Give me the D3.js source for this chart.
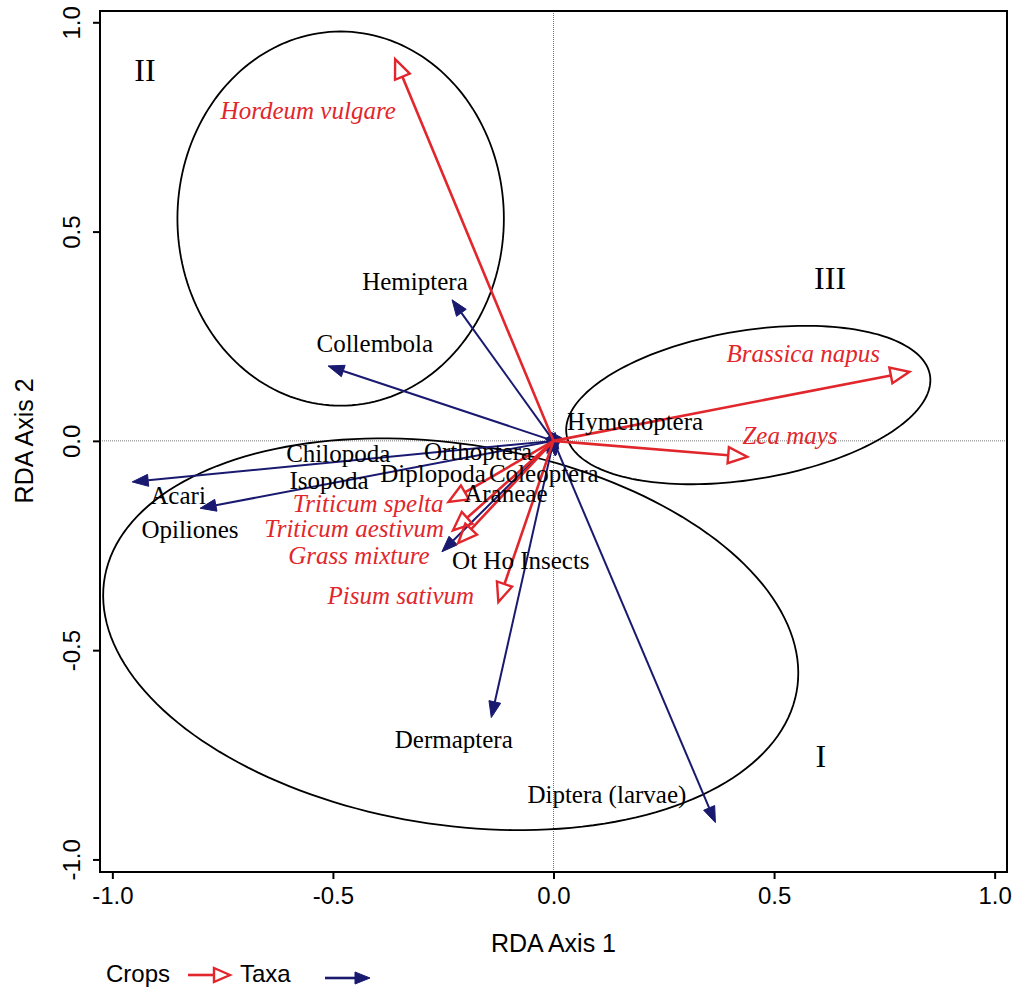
<!DOCTYPE html>
<html>
<head>
<meta charset="utf-8">
<script src="https://cdn.jsdelivr.net/npm/d3@7"></script>
<style>
  html, body { margin: 0; padding: 0; background: #fff; }
  svg { display: block; }
</style>
</head>
<body>
<div id="chart"></div>
<script>
// Crop vectors (red, open heads)
var cropNames = ['Hordeum vulgare', 'Brassica napus', 'Zea mays', 'Triticum spelta',
  'Triticum aestivum', 'Grass mixture', 'Pisum sativum'];
var cropX = [-0.359, 0.807, 0.439, -0.238, -0.228, -0.216, -0.125];
var cropY = [0.912, 0.165, -0.038, -0.146, -0.214, -0.244, -0.385];
var cropLabelX = [-0.556, 0.566, 0.536, -0.420, -0.452, -0.441, -0.346];
var cropLabelY = [0.769, 0.188, -0.007, -0.170, -0.230, -0.294, -0.390];

// Taxa vectors (navy, filled heads)
var taxaNames = ['Hemiptera', 'Collembola', 'Acari', 'Opiliones', 'Chilopoda', 'Isopoda',
  'Orthoptera', 'Diplopoda', 'Coleoptera', 'Araneae', 'Hymenoptera', 'Ot Ho Insects',
  'Dermaptera', 'Diptera (larvae)'];
var taxaX = [-0.230, -0.511, -0.955, -0.801, -0.020, -0.015, -0.010, -0.008, 0.006, 0.004, 0.012, -0.253, -0.141, 0.367];
var taxaY = [0.337, 0.179, -0.098, -0.161, -0.025, -0.030, -0.020, -0.032, -0.034, -0.036, -0.020, -0.265, -0.661, -0.912];
var taxaLabelX = [-0.314, -0.405, -0.851, -0.824, -0.488, -0.509, -0.171, -0.273, -0.022, -0.108, 0.185, -0.074, -0.226, 0.121];
var taxaLabelY = [0.360, 0.212, -0.151, -0.232, -0.050, -0.115, -0.046, -0.098, -0.098, -0.146, 0.026, -0.306, -0.733, -0.865];

// Group ellipses
var groupNames = ['I', 'II', 'III'];
var groupCx = [-0.233, -0.4825, 0.4415];
var groupCy = [-0.462, 0.531, 0.0856];
var groupA = [0.796, 0.370, 0.418];
var groupB = [0.454, 0.447, 0.1775];
var groupAngle = [-10, 0, 10];
var groupLabelX = [0.606, -0.926, 0.627];
var groupLabelY = [-0.780, 0.860, 0.363];

var tickValues = [-1.0, -0.5, 0.0, 0.5, 1.0];

var W = 1017, H = 990;
var margin = { top: 11, right: 10, bottom: 118, left: 100 };
var red = '#e1262c';
var navy = '#191970';

var svg = d3.select('#chart').append('svg')
  .attr('width', W).attr('height', H);

var x = d3.scaleLinear().domain([-1.028, 1.028]).range([margin.left, W - margin.right]);
var y = d3.scaleLinear().domain([-1.030, 1.027]).range([H - margin.bottom, margin.top]);

// reference lines through the origin
svg.append('line')
  .attr('x1', x.range()[0]).attr('x2', x.range()[1])
  .attr('y1', y(0)).attr('y2', y(0))
  .attr('stroke', '#777').attr('stroke-width', 1).attr('stroke-dasharray', '1,1');
svg.append('line')
  .attr('x1', x(0)).attr('x2', x(0))
  .attr('y1', y.range()[0]).attr('y2', y.range()[1])
  .attr('stroke', '#777').attr('stroke-width', 1).attr('stroke-dasharray', '1,1');

// ellipses
var line = d3.line().curve(d3.curveLinearClosed);
groupNames.forEach(function(g, i) {
  var th = groupAngle[i] * Math.PI / 180;
  var pts = d3.range(0, 360, 2).map(function(deg) {
    var t = deg * Math.PI / 180;
    var dx = groupA[i] * Math.cos(t) * Math.cos(th) - groupB[i] * Math.sin(t) * Math.sin(th);
    var dy = groupA[i] * Math.cos(t) * Math.sin(th) + groupB[i] * Math.sin(t) * Math.cos(th);
    return [x(groupCx[i] + dx), y(groupCy[i] + dy)];
  });
  svg.append('path').attr('d', line(pts))
    .attr('fill', 'none').attr('stroke', '#000').attr('stroke-width', 1.8);
  svg.append('text')
    .attr('x', x(groupLabelX[i])).attr('y', y(groupLabelY[i]))
    .attr('text-anchor', 'middle')
    .style('font-family', '"Liberation Serif", "DejaVu Serif", serif')
    .style('font-size', '32px')
    .text(g);
});

// arrow helper: pixel geometry from scaled endpoints
function arrow(g, x1, y1, opts) {
  var x0p = x(0), y0p = y(0), x1p = x(x1), y1p = y(y1);
  var dx = x1p - x0p, dy = y1p - y0p;
  var len = Math.sqrt(dx * dx + dy * dy);
  var ux = dx / len, uy = dy / len;
  var bx = x1p - opts.len * ux, by = y1p - opts.len * uy;
  if (len > opts.len) {
    g.append('line')
      .attr('x1', x0p).attr('y1', y0p).attr('x2', bx).attr('y2', by)
      .attr('stroke', opts.color).attr('stroke-width', opts.width);
  }
  var pts = [[x1p, y1p], [bx - opts.half * uy, by + opts.half * ux], [bx + opts.half * uy, by - opts.half * ux]];
  g.append('polygon')
    .attr('points', pts.map(function(p) { return p.join(','); }).join(' '))
    .attr('fill', opts.fill)
    .attr('stroke', opts.color)
    .attr('stroke-width', opts.stroke)
    .attr('stroke-linejoin', 'miter');
}

var taxaG = svg.append('g');
taxaNames.forEach(function(n, i) {
  arrow(taxaG, taxaX[i], taxaY[i], { len: 16, half: 6, color: navy, fill: navy, width: 2, stroke: 1 });
});

var cropG = svg.append('g');
cropNames.forEach(function(n, i) {
  arrow(cropG, cropX[i], cropY[i], { len: 19, half: 8, color: red, fill: 'none', width: 2.6, stroke: 2.4 });
});

// labels
svg.append('g').selectAll('text').data(taxaNames).enter().append('text')
  .attr('x', function(d, i) { return x(taxaLabelX[i]); })
  .attr('y', function(d, i) { return y(taxaLabelY[i]); })
  .attr('text-anchor', 'middle')
  .style('font-family', '"Liberation Serif", "DejaVu Serif", serif')
  .style('font-size', '25px')
  .attr('fill', '#000')
  .text(function(d) { return d; });

svg.append('g').selectAll('text').data(cropNames).enter().append('text')
  .attr('x', function(d, i) { return x(cropLabelX[i]); })
  .attr('y', function(d, i) { return y(cropLabelY[i]); })
  .attr('text-anchor', 'middle')
  .style('font-family', '"Liberation Serif", "DejaVu Serif", serif')
  .style('font-size', '25px')
  .style('font-style', 'italic')
  .attr('fill', red)
  .text(function(d) { return d; });

// frame
svg.append('rect')
  .attr('x', x.range()[0]).attr('y', y.range()[1])
  .attr('width', x.range()[1] - x.range()[0])
  .attr('height', y.range()[0] - y.range()[1])
  .attr('fill', 'none').attr('stroke', '#000').attr('stroke-width', 2);

// axes (plain hyphen minus like R)
var fmt = function(d) { return d3.format('.1f')(d).replace('\u2212', '-'); };
var xAxis = svg.append('g')
  .attr('transform', 'translate(0,' + y.range()[0] + ')')
  .call(d3.axisBottom(x).tickValues(tickValues).tickFormat(fmt).tickSize(7).tickPadding(8));
var yAxis = svg.append('g')
  .attr('transform', 'translate(' + x.range()[0] + ',0)')
  .call(d3.axisLeft(y).tickValues(tickValues).tickFormat(fmt).tickSize(7));
[xAxis, yAxis].forEach(function(a) {
  a.select('.domain').remove();
  a.selectAll('.tick line').attr('stroke', '#000').attr('stroke-width', 2);
  a.selectAll('text')
    .attr('fill', '#000')
    .style('font-family', '"Liberation Sans", Arial, sans-serif')
    .style('font-size', '24px');
});
yAxis.selectAll('text')
  .attr('x', 0).attr('y', -20).attr('dy', 0)
  .attr('text-anchor', 'middle')
  .attr('transform', 'rotate(-90)');

svg.append('text')
  .attr('x', x(0)).attr('y', 952)
  .attr('text-anchor', 'middle')
  .style('font-family', '"Liberation Sans", Arial, sans-serif')
  .style('font-size', '25px')
  .text('RDA Axis 1');

svg.append('text')
  .attr('transform', 'translate(33,' + y(0) + ') rotate(-90)')
  .attr('text-anchor', 'middle')
  .style('font-family', '"Liberation Sans", Arial, sans-serif')
  .style('font-size', '25px')
  .text('RDA Axis 2');

// legend
var leg = svg.append('g');
leg.append('text').attr('x', 106).attr('y', 982)
  .style('font-family', '"Liberation Sans", Arial, sans-serif')
  .style('font-size', '24px').text('Crops');
leg.append('line').attr('x1', 188).attr('x2', 214).attr('y1', 975).attr('y2', 975)
  .attr('stroke', red).attr('stroke-width', 2.6);
leg.append('polygon').attr('points', '230,975 214,968 214,982')
  .attr('fill', 'none').attr('stroke', red).attr('stroke-width', 2.4);
leg.append('text').attr('x', 240).attr('y', 982)
  .style('font-family', '"Liberation Sans", Arial, sans-serif')
  .style('font-size', '24px').text('Taxa');
leg.append('line').attr('x1', 325).attr('x2', 356).attr('y1', 978).attr('y2', 978)
  .attr('stroke', navy).attr('stroke-width', 2.6);
leg.append('polygon').attr('points', '370,978 355,972 355,984')
  .attr('fill', navy).attr('stroke', navy).attr('stroke-width', 1);
</script>
</body>
</html>
